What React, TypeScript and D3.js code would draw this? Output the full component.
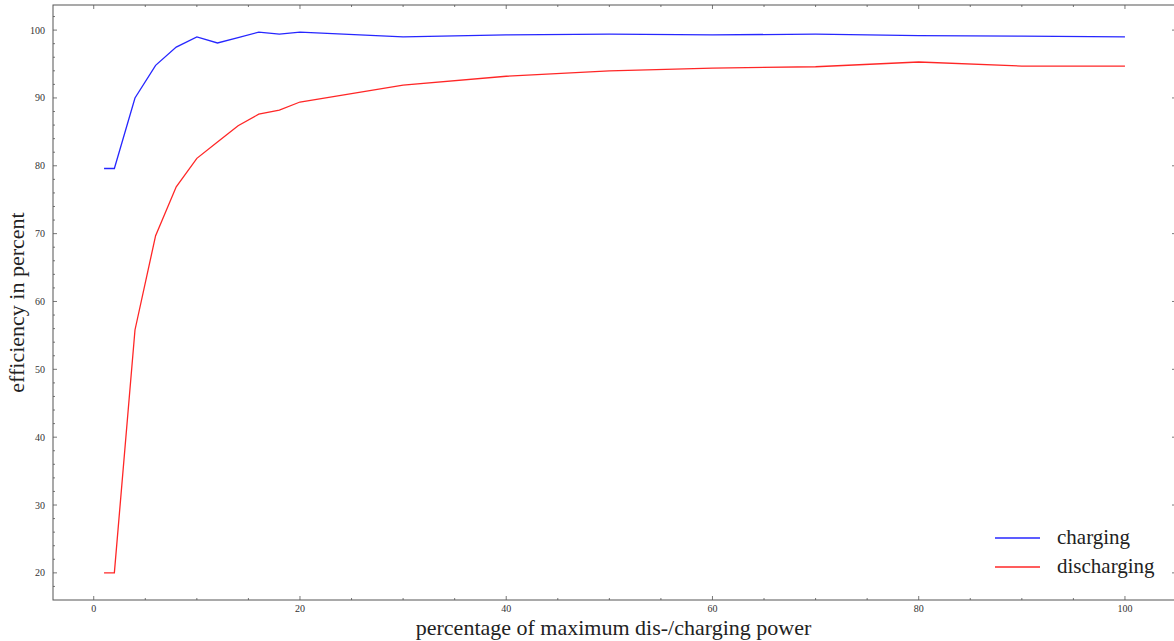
import { useEffect, useRef } from 'react'
import * as d3 from 'd3'

const powerLevels = [1, 2, 4, 6, 8, 10, 12, 14, 16, 18, 20, 30, 40, 50, 60, 70, 80, 90, 100]
const chargingEff = [79.6, 79.6, 90.0, 94.8, 97.5, 99.0, 98.1, 98.9, 99.7, 99.4, 99.7, 99.0, 99.3, 99.4, 99.3, 99.4, 99.2, 99.1, 99.0]
const dischargingEff = [20.0, 20.0, 55.8, 69.7, 76.9, 81.1, 83.5, 85.9, 87.6, 88.2, 89.4, 91.9, 93.2, 94.0, 94.4, 94.6, 95.3, 94.7, 94.7]
const seriesNames = ['charging', 'discharging']
const seriesColors = ['#0000ff', '#ff0000']
const xTicks = [0, 20, 40, 60, 80, 100]
const yTicks = [20, 30, 40, 50, 60, 70, 80, 90, 100]

export default function App() {
  const ref = useRef<SVGSVGElement | null>(null)

  useEffect(() => {
    const svg = d3.select(ref.current)
    svg.selectAll('*').remove()

    const left = 53, right = 1176, top = 5, bottom = 600
    const axisColor = '#555'
    const font = '"Liberation Serif", "DejaVu Serif", serif'

    const x = d3.scaleLinear().domain([-3.95, 104.95]).range([left, right])
    const y = d3.scaleLinear().domain([16.0, 103.7]).range([bottom, top])

    // frame
    svg.append('rect')
      .attr('x', left).attr('y', top)
      .attr('width', right - left).attr('height', bottom - top)
      .attr('fill', 'none').attr('stroke', axisColor).attr('stroke-width', 1)

    const g = svg.append('g').attr('stroke', axisColor).attr('stroke-width', 0.8)
    const xMinor = d3.range(0, 105, 5)
    const yMinor = d3.range(18, 104, 2)

    xMinor.forEach(v => {
      const major = v % 20 === 0
      const len = major ? 4 : 2
      g.append('line').attr('x1', x(v)).attr('x2', x(v)).attr('y1', bottom).attr('y2', bottom - len)
      g.append('line').attr('x1', x(v)).attr('x2', x(v)).attr('y1', top).attr('y2', top + len)
    })
    yMinor.forEach(v => {
      const major = v % 10 === 0
      const len = major ? 4 : 2
      g.append('line').attr('x1', left).attr('x2', left + len).attr('y1', y(v)).attr('y2', y(v))
      g.append('line').attr('x1', right - len).attr('x2', right).attr('y1', y(v)).attr('y2', y(v))
    })

    svg.append('g').selectAll('text')
      .data(xTicks).enter().append('text')
      .attr('x', d => x(d)).attr('y', bottom + 12)
      .attr('text-anchor', 'middle')
      .attr('font-family', font).attr('font-size', 10).attr('fill', '#333')
      .text(d => d)

    svg.append('g').selectAll('text')
      .data(yTicks).enter().append('text')
      .attr('x', left - 8).attr('y', d => y(d) + 3.5)
      .attr('text-anchor', 'end')
      .attr('font-family', font).attr('font-size', 10).attr('fill', '#333')
      .text(d => d)

    const line = d3.line<number>()
      .x((_, i) => x(powerLevels[i]))
      .y(d => y(d))

    ;[chargingEff, dischargingEff].forEach((vals, i) => {
      svg.append('path')
        .datum(vals)
        .attr('d', line)
        .attr('fill', 'none')
        .attr('stroke', seriesColors[i])
        .attr('stroke-opacity', 0.85)
        .attr('stroke-width', 1.3)
    })

    // legend
    seriesNames.forEach((name, i) => {
      const ly = 538 + i * 29
      svg.append('line')
        .attr('x1', 995).attr('x2', 1040).attr('y1', ly).attr('y2', ly)
        .attr('stroke', seriesColors[i]).attr('stroke-opacity', 0.85).attr('stroke-width', 1.3)
      svg.append('text')
        .attr('x', 1057).attr('y', ly + 6)
        .attr('font-family', font).attr('font-size', 21).attr('fill', '#222')
        .text(name)
    })

    svg.append('text')
      .attr('x', (left + 1174) / 2).attr('y', 635)
      .attr('text-anchor', 'middle')
      .attr('font-family', font).attr('font-size', 22).attr('fill', '#222')
      .text('percentage of maximum dis-/charging power')

    svg.append('text')
      .attr('transform', `translate(24,${(top + bottom) / 2}) rotate(-90)`)
      .attr('text-anchor', 'middle')
      .attr('font-family', font).attr('font-size', 22).attr('fill', '#222')
      .text('efficiency in percent')
  }, [])

  return (
    <svg ref={ref} width={1174} height={641}
      style={{ position: 'absolute', left: 0, top: 0, background: '#fff' }} />
  )
}
